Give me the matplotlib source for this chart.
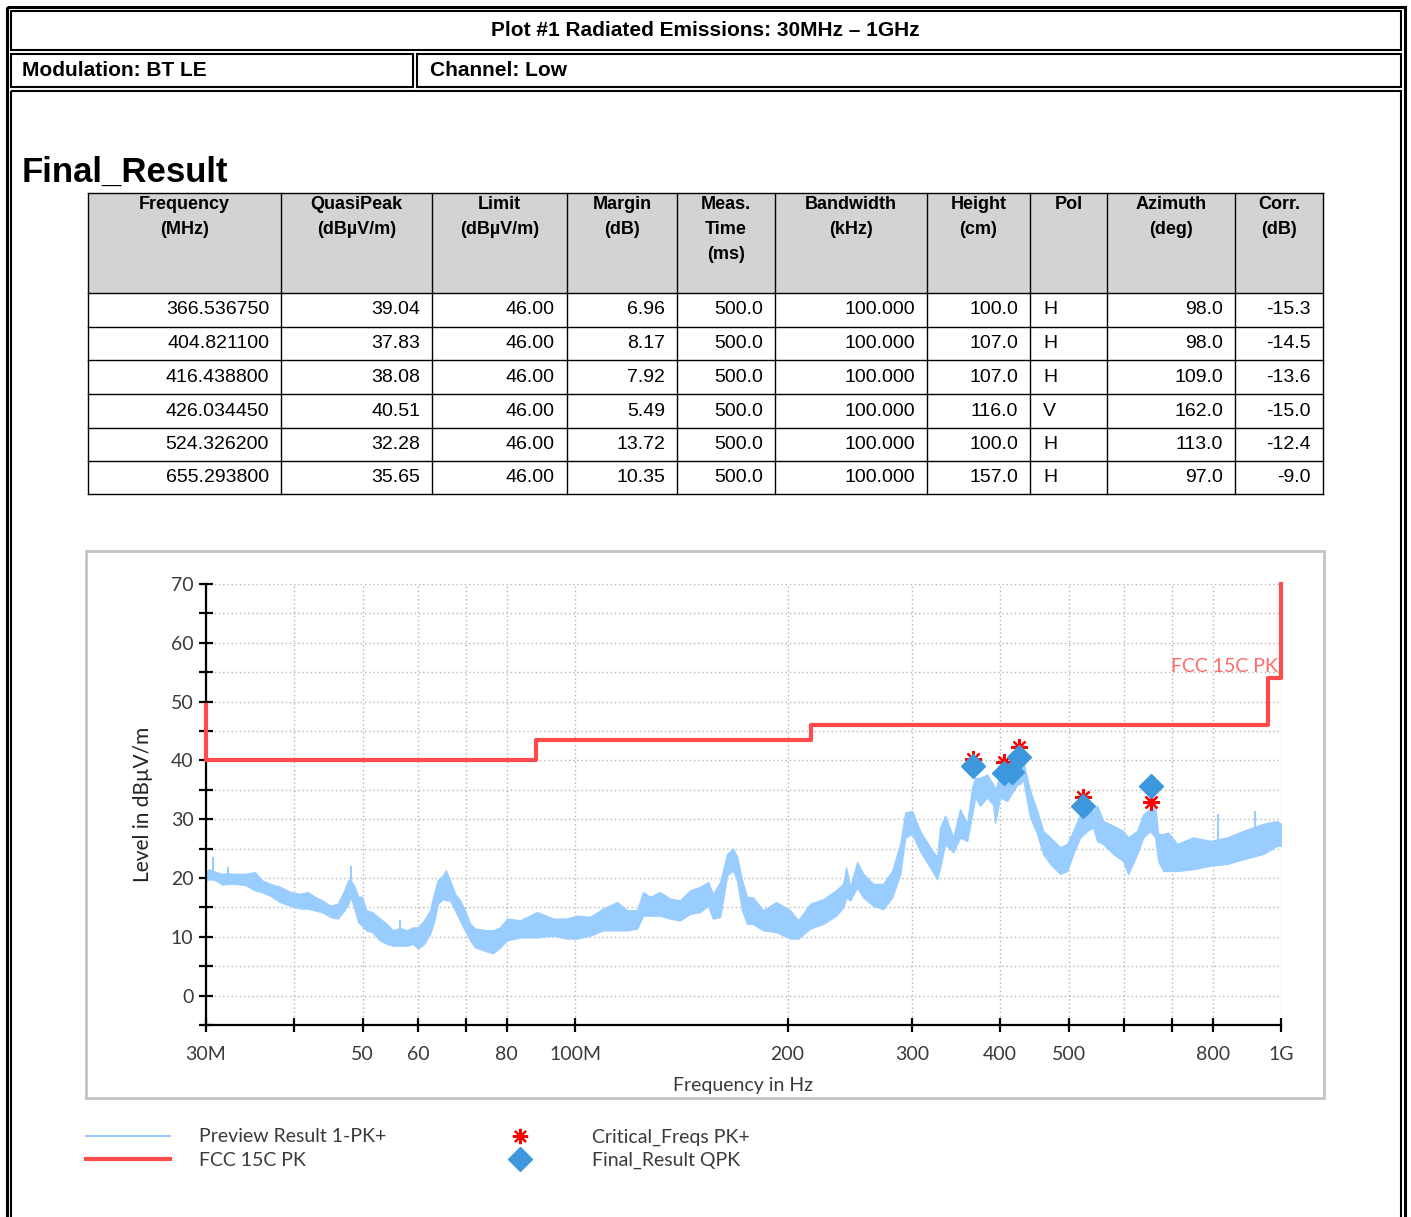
import matplotlib
matplotlib.use("Agg")
import matplotlib.pyplot as plt
from matplotlib.patches import Rectangle

W, H = 1411, 1217

title = "Plot #1 Radiated Emissions: 30MHz – 1GHz"
modulation = "Modulation: BT LE"
channel = "Channel: Low"

headers = ["Frequency\n(MHz)", "QuasiPeak\n(dBµV/m)", "Limit\n(dBµV/m)", "Margin\n(dB)",
           "Meas.\nTime\n(ms)", "Bandwidth\n(kHz)", "Height\n(cm)", "Pol",
           "Azimuth\n(deg)", "Corr.\n(dB)"]
freq_col = ["366.536750", "404.821100", "416.438800", "426.034450", "524.326200", "655.293800"]
qp_col = ["39.04", "37.83", "38.08", "40.51", "32.28", "35.65"]
limit_col = ["46.00"] * 6
margin_col = ["6.96", "8.17", "7.92", "5.49", "13.72", "10.35"]
time_col = ["500.0"] * 6
bw_col = ["100.000"] * 6
height_col = ["100.0", "107.0", "107.0", "116.0", "100.0", "157.0"]
pol_col = ["H", "H", "H", "V", "H", "H"]
az_col = ["98.0", "98.0", "109.0", "162.0", "113.0", "97.0"]
corr_col = ["-15.3", "-14.5", "-13.6", "-15.0", "-12.4", "-9.0"]

prev_mhz = [30.0, 30.3, 30.7, 31.0, 31.6, 32.2, 33.0, 34.1, 35.2, 36.0, 37.0, 38.2, 39.5, 40.8,
            41.8, 42.8, 43.8, 45.0, 46.1, 47.1, 47.7, 48.1, 48.6, 49.3, 49.9, 50.6, 51.6, 52.9,
            54.1, 55.2, 56.5, 57.8, 58.9, 59.9, 61.1, 62.3, 63.1, 63.9, 65.0, 65.6, 66.5, 67.6,
            68.7, 69.8, 71.0, 72.2,
            75.0, 76.5, 78.3, 80.1, 83.6, 88.3, 93.1, 97.4, 100.6, 105.0, 109.6, 114.7, 118.5,
            122.4, 124.8, 127.7, 131.9, 136.3, 140.8, 145.5, 150.3, 154.3, 156.8, 160.5, 164.2,
            167.4, 169.6, 172.4, 175.2,
            178.7, 184.6, 192.7, 201.7, 207.0, 215.2, 224.6, 234.3, 239.7, 242.1, 245.3, 250.9,
            255.9, 264.4, 273.2, 281.3, 288.8, 293.5, 300.2, 308.1, 318.4, 325.7, 328.9, 334.3,
            343.2, 351.1, 359.2, 365.1, 368.7, 374.8, 383.4, 391.0, 393.6, 400.0, 409.3, 417.4,
            422.9, 427.0, 431.2, 441.2, 451.4, 460.3, 471.0, 486.6, 497.8, 507.7, 519.4, 531.4,
            541.9, 549.0, 559.9, 578.4, 597.6, 607.4, 625.6, 637.9, 652.6, 663.4, 669.9, 680.9,
            692.1, 712.7, 750.9, 793.7, 839.0, 884.0, 943.5, 987.6, 1000.0]
prev_lo = [19.6, 19.8, 19.7, 19.6, 18.9, 19.0, 19.0, 18.8, 17.9, 17.6, 17.0, 15.9, 15.3, 14.8,
           14.8, 14.5, 14.2, 13.4, 13.1, 14.5, 15.6, 16.8, 15.1, 12.5, 11.9, 11.1, 10.8, 9.4,
           8.8, 8.5, 8.5, 8.5, 8.8, 8.0, 8.8, 10.5, 12.5, 15.6, 16.5, 16.2, 16.2, 14.5,
           12.8, 11.1, 9.4, 8.2,
           7.5, 7.2, 8.2, 9.4, 9.9, 9.9, 10.2, 9.7, 9.7, 10.2, 11.1, 11.1, 11.1,
           11.4, 13.6, 13.6, 13.6, 13.1, 12.8, 13.9, 14.2, 15.3, 13.1, 13.4, 20.5,
           21.3, 19.6, 14.5, 12.2,
           12.2, 11.1, 10.8, 9.7, 9.7, 11.4, 12.2, 13.6, 15.0, 16.7, 16.2, 18.4,
           16.7, 15.3, 14.7, 16.7, 20.7, 26.9, 27.5, 24.6, 21.8, 19.8, 21.8, 25.8,
           24.4, 26.9, 26.3, 30.8, 33.7, 32.3, 33.7, 32.5, 29.4, 33.7, 33.1, 34.8,
           35.9, 36.0, 36.8, 30.3, 27.5, 24.1, 22.4, 20.7, 21.2, 24.1, 26.9, 28.0,
           28.6, 26.3, 25.8, 24.1, 22.9, 20.7, 24.1, 26.9, 28.0, 26.9, 22.9, 21.2,
           21.2, 21.2, 21.5, 22.1, 22.4, 23.2, 24.1, 25.5, 25.5]
prev_hi = [21.0, 21.5, 21.2, 21.0, 20.7, 20.8, 20.7, 20.7, 21.0, 19.6, 19.0, 18.5, 17.6, 17.3,
           17.6, 16.8, 16.2, 15.3, 15.6, 17.9, 19.6, 19.6, 18.8, 16.8, 16.8, 14.5, 14.2, 13.1,
           12.2, 11.1, 11.5, 11.1, 11.6, 11.6, 12.8, 14.5, 17.3, 19.6, 20.5, 21.3, 19.6, 17.3,
           16.2, 14.5, 12.2, 11.4,
           11.1, 11.1, 11.6, 13.1, 12.8, 14.2, 13.1, 13.1, 13.6, 13.4, 14.8, 15.9, 14.5,
           14.5, 17.6, 16.8, 17.6, 16.5, 16.2, 17.9, 18.5, 19.3, 17.3, 19.3, 24.1,
           25.0, 23.6, 19.6, 16.8,
           16.7, 14.5, 15.9, 14.5, 12.8, 15.6, 16.4, 17.9, 19.0, 21.8, 18.4, 22.7,
           20.7, 19.0, 19.0, 21.2, 25.8, 31.1, 31.4, 28.0, 25.2, 23.5, 28.6, 30.6,
           26.9, 31.7, 29.2, 35.4, 37.0, 37.0, 37.6, 35.9, 35.0, 37.6, 39.3, 39.3,
           39.9, 40.5, 39.9, 34.8, 31.4, 28.0, 26.9, 25.2, 25.8, 28.0, 30.8, 32.0,
           31.4, 32.3, 29.7, 28.9, 28.0, 26.9, 28.0, 30.8, 31.7, 32.0, 27.5, 27.5,
           27.7, 25.8, 26.9, 26.3, 26.9, 28.0, 29.2, 29.7, 29.2]
# single narrow spikes sticking out of the band
spike_mhz = [30.7, 32.2, 48.1, 56.5, 814.7, 919.2]
spike_lo = [20.0, 19.5, 17.0, 9.5, 23.0, 24.0]
spike_hi = [23.5, 21.9, 22.0, 12.8, 30.8, 31.4]

limit_mhz = [30, 30, 88, 88, 216, 216, 960, 960, 1000, 1000]
limit_db = [49.5, 40, 40, 43.5, 43.5, 46, 46, 54, 54, 70]

crit_mhz = [366.5, 404.8, 426.0, 524.3, 655.3]
crit_db = [40.2, 39.8, 42.2, 33.7, 33.0]

final_mhz = [float(v) for v in freq_col]
final_db = [float(v) for v in qp_col]

narrow = ["Liberation Sans Narrow", "Liberation Sans", "DejaVu Sans"]
light = ["Lato", "DejaVu Sans"]
BLUE_L = "#99ccff"
RED = "#ff4b4b"
DIAM = "#3d97dc"
GREY_TXT = "#3a3a3a"

fig = plt.figure(figsize=(W / 100, H / 100), dpi=100)
ov = fig.add_axes([0, 0, 1, 1])
ov.set_xlim(0, W)
ov.set_ylim(H, 0)
ov.axis("off")


def rect(x0, y0, x1, y1, **kw):
    ov.add_patch(Rectangle((x0, y0), x1 - x0, y1 - y0, **kw))


# page frame
rect(7, 7, 1405, 1230, fill=False, ec="black", lw=2.2)
rect(11, 11, 1401, 50, fill=False, ec="black", lw=1.5)
rect(11, 54, 413, 87, fill=False, ec="black", lw=1.5)
rect(417, 54, 1401, 87, fill=False, ec="black", lw=1.5)
rect(11, 91, 1401, 1230, fill=False, ec="black", lw=1.5)

ov.text(705, 31, title, ha="center", va="center", fontsize=15, fontweight="bold", family=narrow)
ov.text(22, 71, modulation, ha="left", va="center", fontsize=15, fontweight="bold", family=narrow)
ov.text(430, 71, channel, ha="left", va="center", fontsize=15, fontweight="bold", family=narrow)
ov.text(22, 172, "Final_Result", ha="left", va="center", fontsize=25, fontweight="bold", family=narrow)

# results table
cols = [88, 281, 432, 567, 677, 775, 927, 1030, 1107, 1235, 1323]
row_y = [193, 293, 327, 360, 394, 428, 461, 494]
rect(cols[0], row_y[0], cols[-1], row_y[1], fc="#d3d3d3", ec="none")
for y in row_y:
    ov.plot([cols[0], cols[-1]], [y, y], color="black", lw=1)
for x in cols:
    ov.plot([x, x], [row_y[0], row_y[-1]], color="black", lw=1)
for i, h in enumerate(headers):
    ov.text((cols[i] + cols[i + 1]) / 2, 196, h, ha="center", va="top", fontsize=13,
            fontweight="bold", family=narrow, linespacing=1.6)
table_cols = [freq_col, qp_col, limit_col, margin_col, time_col, bw_col, height_col,
              pol_col, az_col, corr_col]
for j, col in enumerate(table_cols):
    for r, val in enumerate(col):
        yc = (row_y[r + 1] + row_y[r + 2]) / 2
        if j == 7:
            ov.text(cols[j] + 13, yc, val, ha="left", va="center", fontsize=14, family=narrow)
        else:
            ov.text(cols[j + 1] - 12, yc, val, ha="right", va="center", fontsize=14, family=narrow)

# chart frame
rect(86, 551, 1324, 1098, fill=False, ec="#c4c4c4", lw=2)

ax = fig.add_axes([206 / W, 1 - 1025 / H, (1281 - 206) / W, (1025 - 584) / H])
ax.set_facecolor("none")
ax.set_xscale("log")
ax.set_xlim(30e6, 1e9)
ax.set_ylim(-5, 70)

ax.fill_between([f * 1e6 for f in prev_mhz], prev_lo, prev_hi, color=BLUE_L, lw=1, zorder=2)
ax.vlines([f * 1e6 for f in spike_mhz], spike_lo, spike_hi, color=BLUE_L, lw=1.5, zorder=2)
ax.plot([f * 1e6 for f in limit_mhz], limit_db, color=RED, lw=3, zorder=3, clip_on=False)
ax.plot([f * 1e6 for f in crit_mhz], crit_db, ls="none", marker=(8, 2, 0), ms=12, mew=1.6,
        color="red", zorder=4)
ax.plot([f * 1e6 for f in final_mhz], final_db, ls="none", marker="D", ms=12, color=DIAM,
        mec=DIAM, zorder=5)
ax.text(990e6, 56, "FCC 15C PK", ha="right", va="center", fontsize=14, color="#ff6a6a",
        family=light)

xt = [30e6, 40e6, 50e6, 60e6, 70e6, 80e6, 100e6, 200e6, 300e6, 400e6, 500e6, 600e6, 700e6,
      800e6, 1e9]
xl = ["30M", "", "50", "60", "", "80", "100M", "200", "300", "400", "500", "", "", "800", "1G"]
ax.set_xticks(xt)
ax.set_xticklabels(xl)
ax.xaxis.set_minor_locator(matplotlib.ticker.NullLocator())
ax.set_yticks(range(-5, 71, 5))
ax.set_yticklabels(["" if v % 10 else str(v) for v in range(-5, 71, 5)])
ax.grid(True, color="#b4b4b4", ls=(0, (1, 2)), lw=1)
ax.set_axisbelow(True)
for s in ["top", "right"]:
    ax.spines[s].set_visible(False)
for s in ["left", "bottom"]:
    ax.spines[s].set_linewidth(1.6)
ax.tick_params(axis="y", direction="inout", length=10, width=1.6, pad=4, labelsize=14,
               labelcolor=GREY_TXT)
ax.tick_params(axis="x", direction="inout", length=10, width=1.6, pad=10, labelsize=14,
               labelcolor=GREY_TXT)
for lab in ax.get_xticklabels() + ax.get_yticklabels():
    lab.set_family(light)

ov.text(743, 1085, "Frequency in Hz", ha="center", va="center", fontsize=14, color=GREY_TXT,
        family=light)
ov.text(143, 804, "Level in dBµV/m", ha="center", va="center", rotation=90, fontsize=15,
        color="#222222", family=light)

# legend under the chart
ov.plot([86, 170], [1136, 1136], color=BLUE_L, lw=1.5)
ov.plot([86, 170], [1159, 1159], color=RED, lw=3)
ov.plot([520], [1136], marker=(8, 2, 0), ms=11, mew=1.6, color="red")
ov.plot([520], [1159], marker="D", ms=12, color=DIAM)
for x, y, s in [(199, 1137, "Preview Result 1-PK+"), (199, 1160, "FCC 15C PK"),
                (592, 1137, "Critical_Freqs PK+"), (592, 1160, "Final_Result QPK")]:
    ov.text(x, y, s, ha="left", va="center", fontsize=14, color=GREY_TXT, family=light)

fig.savefig("out.png", dpi=100)
